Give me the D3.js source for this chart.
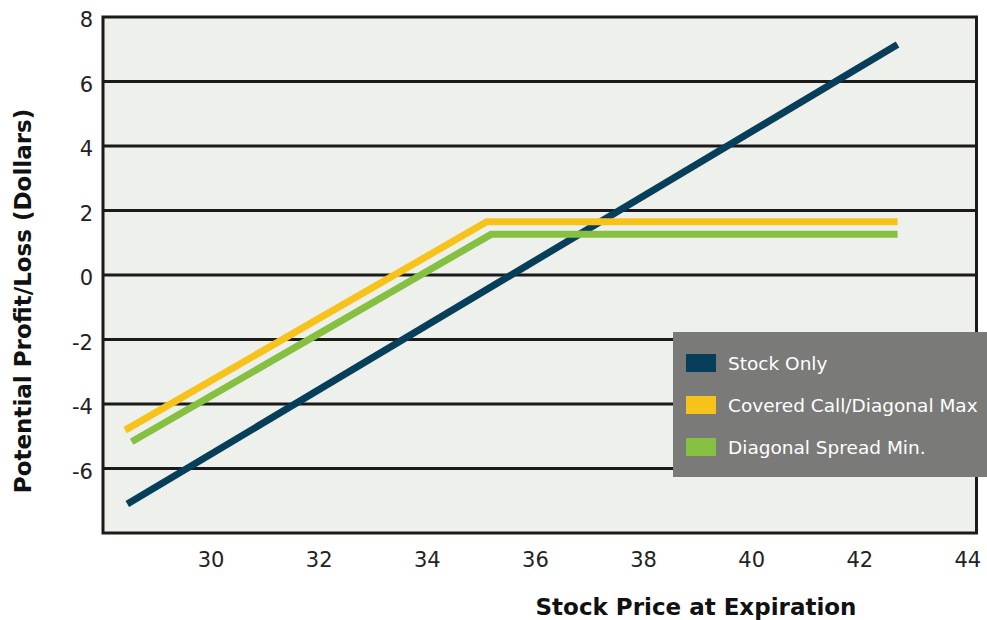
<!DOCTYPE html>
<meta charset="utf-8">
<style>
  body { margin: 0; background: #fff; }
  svg { display: block; font-family: "DejaVu Sans", sans-serif; }
  .tick-label { font-size: 21px; fill: #222; }
  .axis-title { font-size: 23px; font-weight: 700; fill: #111; }
  .legend-text { font-size: 18.5px; fill: #fff; }
</style>
<body>
<div id="chart"></div>
<script src="https://d3js.org/d3.v7.js"></script>
<script>
  const width = 987;
  const height = 620;

  // data
  const xTicks = [30, 32, 34, 36, 38, 40, 42, 44];
  const yTicks = [-6, -4, -2, 0, 2, 4, 6, 8];
  const seriesNames = ["Stock Only", "Covered Call/Diagonal Max", "Diagonal Spread Min."];
  const seriesColors = ["#073f5b", "#f7c31b", "#86c040"];
  const stockOnly = [{x: 28.45, y: -7.1}, {x: 42.7, y: 7.15}];
  const coveredCall = [{x: 28.41, y: -4.81}, {x: 35.1, y: 1.65}, {x: 42.7, y: 1.65}];
  const diagonalMin = [{x: 28.53, y: -5.17}, {x: 35.18, y: 1.26}, {x: 42.7, y: 1.26}];

  const plot = {left: 103, top: 17, right: 976.5, bottom: 533};

  const x = d3.scaleLinear().domain([28, 44.16]).range([plot.left, plot.right]);
  const y = d3.scaleLinear().domain([-8, 8]).range([plot.bottom, plot.top]);

  const svg = d3.select("#chart").append("svg")
    .attr("width", width)
    .attr("height", height);

  // plot background
  svg.append("rect")
    .attr("x", plot.left).attr("y", plot.top)
    .attr("width", plot.right - plot.left)
    .attr("height", plot.bottom - plot.top)
    .attr("fill", "#eef0ec");

  // horizontal grid lines
  svg.selectAll("line.grid")
    .data(yTicks.filter(d => d < 8))
    .join("line")
    .attr("class", "grid")
    .attr("x1", plot.left).attr("x2", plot.right)
    .attr("y1", d => y(d)).attr("y2", d => y(d))
    .attr("stroke", "#1b1b1b")
    .attr("stroke-width", 3);

  // frame
  svg.append("rect")
    .attr("x", plot.left).attr("y", plot.top)
    .attr("width", plot.right - plot.left)
    .attr("height", plot.bottom - plot.top)
    .attr("fill", "none")
    .attr("stroke", "#1b1b1b")
    .attr("stroke-width", 3);

  // y tick labels
  svg.selectAll("text.ytick")
    .data(yTicks)
    .join("text")
    .attr("class", "tick-label ytick")
    .attr("x", 93)
    .attr("y", d => y(d) + 4)
    .attr("dominant-baseline", "middle")
    .attr("text-anchor", "end")
    .text(d => d);

  // x tick labels
  svg.selectAll("text.xtick")
    .data(xTicks)
    .join("text")
    .attr("class", "tick-label xtick")
    .attr("x", d => x(d))
    .attr("y", 567)
    .attr("text-anchor", "middle")
    .text(d => d);

  // axis titles
  svg.append("text")
    .attr("class", "axis-title")
    .attr("x", 696).attr("y", 615)
    .attr("text-anchor", "middle")
    .text("Stock Price at Expiration");

  svg.append("text")
    .attr("class", "axis-title")
    .attr("transform", "translate(31,301) rotate(-90)")
    .attr("text-anchor", "middle")
    .text("Potential Profit/Loss (Dollars)");

  // lines
  const line = d3.line().x(d => x(d.x)).y(d => y(d.y));
  const allSeries = [stockOnly, coveredCall, diagonalMin];

  svg.selectAll("path.series")
    .data(allSeries)
    .join("path")
    .attr("class", "series")
    .attr("d", line)
    .attr("fill", "none")
    .attr("stroke", (d, i) => seriesColors[i])
    .attr("stroke-width", 7)
    .attr("stroke-linejoin", "miter");

  // legend
  const legend = svg.append("g").attr("transform", "translate(673,332)");
  legend.append("rect")
    .attr("width", 320).attr("height", 145)
    .attr("fill", "#7a7a78");

  const items = legend.selectAll("g.item")
    .data(seriesNames)
    .join("g")
    .attr("class", "item")
    .attr("transform", (d, i) => `translate(0,${22 + i * 42})`);

  items.append("rect")
    .attr("x", 13).attr("y", 0)
    .attr("width", 30).attr("height", 18)
    .attr("fill", (d, i) => seriesColors[i]);

  items.append("text")
    .attr("class", "legend-text")
    .attr("x", 55).attr("y", 9)
    .attr("dominant-baseline", "central")
    .text(d => d);
</script>
</body>
</html>
